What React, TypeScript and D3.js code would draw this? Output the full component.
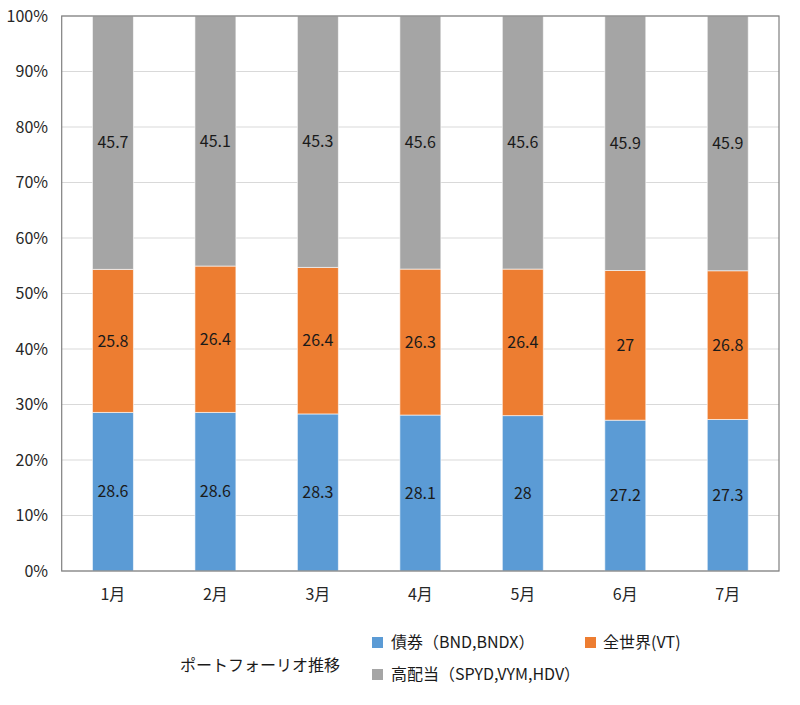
import React from "react";
import * as d3 from "d3";

const months = ["1月", "2月", "3月", "4月", "5月", "6月", "7月"];
const bond = [28.6, 28.6, 28.3, 28.1, 28, 27.2, 27.3];
const world = [25.8, 26.4, 26.4, 26.3, 26.4, 27, 26.8];
const highDiv = [45.7, 45.1, 45.3, 45.6, 45.6, 45.9, 45.9];
const seriesNames = ["債券（BND,BNDX）", "全世界(VT)", "高配当（SPYD,VYM,HDV）"];
const seriesColors = ["#5B9BD5", "#ED7D31", "#A5A5A5"];
const yTicks = [0, 0.1, 0.2, 0.3, 0.4, 0.5, 0.6, 0.7, 0.8, 0.9, 1];
const axisTitle = "ポートフォーリオ推移";

const W = 800;
const H = 705;
const left = 61.7;
const right = 779;
const top = 16;
const bottom = 571;
const font = "'Noto Sans CJK JP', 'Open Sans', sans-serif";

export default function App() {
  const rows = months.map((m, i) => ({ m, a: bond[i], b: world[i], c: highDiv[i] }));
  const stack = d3.stack<any>().keys(["a", "b", "c"]).offset(d3.stackOffsetExpand);
  const layers = stack(rows);
  const x = d3.scaleBand().domain(months).range([left, right]).paddingInner(0.6).paddingOuter(0.3);
  const y = d3.scaleLinear().domain([0, 1]).range([bottom, top]);
  const fmt = d3.format(".0%");
  const raw = [bond, world, highDiv];

  return (
    <svg width={W} height={H} style={{ position: "absolute", left: 0, top: 0, background: "#fff" }}>
      {yTicks.map((t) => (
        <g key={t}>
          <line x1={left} x2={right} y1={y(t)} y2={y(t)} stroke="#d9d9d9" strokeWidth={1} />
          <text x={48} y={y(t)} dy="0.35em" textAnchor="end" fontSize={16} fontFamily={font} fill="#262626">
            {fmt(t)}
          </text>
        </g>
      ))}
      {layers.map((layer, li) => (
        <g key={li}>
          {layer.map((d, i) => (
            <rect
              key={i}
              x={x(months[i])}
              width={x.bandwidth()}
              y={y(d[1])}
              height={y(d[0]) - y(d[1])}
              fill={seriesColors[li]}
              stroke="#fff"
              strokeOpacity={0.6}
              strokeWidth={1}
            />
          ))}
        </g>
      ))}
      {layers.map((layer, li) => (
        <g key={"l" + li}>
          {layer.map((d, i) => (
            <text
              key={i}
              x={(x(months[i]) as number) + x.bandwidth() / 2}
              y={(y(d[0]) + y(d[1])) / 2}
              dy="0.35em"
              textAnchor="middle"
              fontSize={16}
              fontFamily={font}
              fill="#1a1a1a"
            >
              {raw[li][i]}
            </text>
          ))}
        </g>
      ))}
      <rect x={left} y={top} width={right - left} height={bottom - top} fill="none" stroke="#7f7f7f" strokeWidth={1.2} />
      {months.map((m) => (
        <text
          key={m}
          x={(x(m) as number) + x.bandwidth() / 2}
          y={594}
          dy="0.35em"
          textAnchor="middle"
          fontSize={16}
          fontFamily={font}
          fill="#262626"
        >
          {m}
        </text>
      ))}
      <text x={180} y={665} dy="0.35em" fontSize={16} fontFamily={font} fill="#1a1a1a">
        {axisTitle}
      </text>
      {[
        { sx: 372, sy: 637, tx: 391, i: 0 },
        { sx: 585, sy: 637, tx: 603, i: 1 },
        { sx: 372, sy: 669, tx: 391, i: 2 },
      ].map((l) => (
        <g key={l.i}>
          <rect x={l.sx} y={l.sy} width={11} height={11} fill={seriesColors[l.i]} />
          <text x={l.tx} y={l.sy + 5.5} dy="0.35em" fontSize={16} fontFamily={font} fill="#1a1a1a">
            {seriesNames[l.i]}
          </text>
        </g>
      ))}
    </svg>
  );
}
